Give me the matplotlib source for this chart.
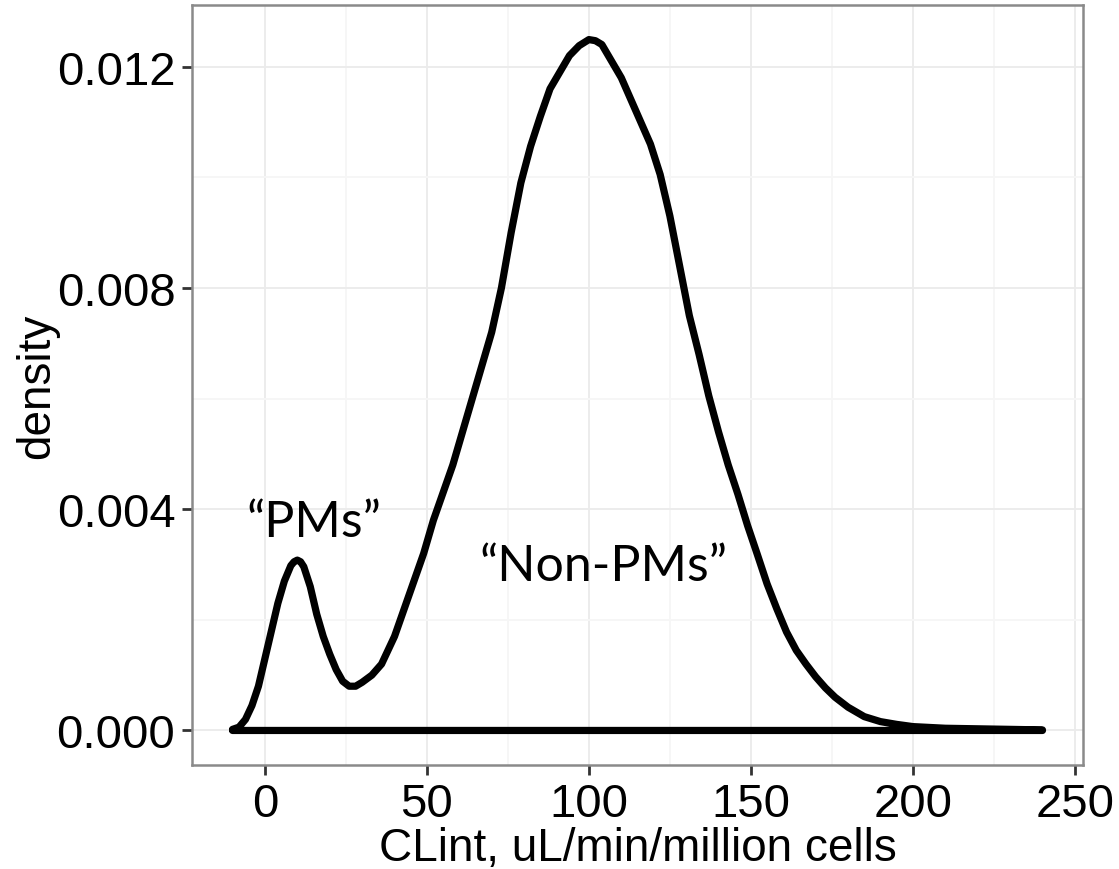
import matplotlib
matplotlib.use("Agg")
import matplotlib.pyplot as plt
from matplotlib.ticker import MultipleLocator

# Density curve values
clint = [-10, -8, -6, -4, -2, 0, 2, 4, 6, 8, 9, 10, 11, 12, 14, 16, 18, 20, 22, 24,
         26, 28, 30, 33, 36, 40, 43, 46, 49, 52, 55, 58, 61, 64, 67, 70, 73, 76, 79,
         82, 85, 88, 91, 94, 97, 100, 102, 104, 107, 110, 113, 116, 119, 122, 125,
         128, 131, 134, 137, 140, 143, 146, 149, 152, 155, 158, 161, 164, 167, 170,
         173, 176, 180, 185, 190, 195, 200, 210, 220, 230, 240]
density = [0.00002, 0.00006, 0.0002, 0.00045, 0.0008, 0.0013, 0.0018, 0.0023, 0.0027,
           0.00298, 0.00305, 0.00308, 0.00305, 0.00296, 0.0026, 0.0021, 0.0017,
           0.00138, 0.0011, 0.00089, 0.0008, 0.0008, 0.00087, 0.001, 0.0012, 0.0017,
           0.0022, 0.0027, 0.0032, 0.0038, 0.0043, 0.0048, 0.0054, 0.0060, 0.0066,
           0.0072, 0.0080, 0.0090, 0.0099, 0.01056, 0.0111, 0.0116, 0.0119, 0.0122,
           0.01238, 0.01249, 0.01247, 0.0124, 0.0121, 0.0118, 0.0114, 0.0110, 0.0106,
           0.01005, 0.0093, 0.0084, 0.0075, 0.0068, 0.00605, 0.0054, 0.0048, 0.00427,
           0.0037, 0.00318, 0.00265, 0.0022, 0.00178, 0.00145, 0.0012, 0.00097,
           0.00077, 0.0006, 0.00042, 0.00025, 0.00016, 0.00011, 0.00007, 0.00004,
           0.00003, 0.00002, 0.00001]

x_ticks = [0, 50, 100, 150, 200, 250]
y_ticks = [0.000, 0.004, 0.008, 0.012]
y_tick_labels = ["0.000", "0.004", "0.008", "0.012"]
x_label = "CLint, uL/min/million cells"
y_label = "density"
annotations = [("\u201cPMs\u201d", 15.2, 0.00352), ("\u201cNon-PMs\u201d", 104.5, 0.00272)]

fig = plt.figure(figsize=(11.19, 8.70), dpi=100)
ax = fig.add_axes([0.1716, 0.1195, 0.7962, 0.8736])
ax.set_facecolor("white")

# closed density outline (curve + baseline)
xs = list(clint) + [clint[-1], clint[0]]
ys = list(density) + [0.0, 0.0]
ax.plot(xs, ys, color="black", lw=5.2, solid_capstyle="round",
        solid_joinstyle="round", zorder=3)

ax.set_xlim(-22.5, 252.5)
ax.set_ylim(-0.000625, 0.013115)

ax.set_xticks(x_ticks)
ax.set_yticks(y_ticks)
ax.set_yticklabels(y_tick_labels)
ax.xaxis.set_minor_locator(MultipleLocator(25))
ax.yaxis.set_minor_locator(MultipleLocator(0.002))

ax.grid(which="major", color="#EBEBEB", lw=1.3, zorder=0)
ax.grid(which="minor", color="#F6F6F6", lw=1.3, zorder=0)
ax.set_axisbelow(True)

for s in ax.spines.values():
    s.set_color("#8A8A8A")
    s.set_linewidth(1.8)

ax.tick_params(which="major", length=7, width=2, color="#333333",
               labelsize=34, labelcolor="black", pad=5)
ax.tick_params(which="minor", length=0)
for lab in ax.get_xticklabels() + ax.get_yticklabels():
    lab.set_family("Liberation Sans")

ax.set_xlabel(x_label, fontsize=33, family="Liberation Sans", labelpad=0)
ax.set_ylabel(y_label, fontsize=33, family="Liberation Sans", labelpad=-2)

for txt, xv, yv in annotations:
    ax.text(xv, yv, txt, ha="center", va="baseline", fontsize=36,
            family="Lato", color="black", zorder=4)

fig.savefig("out.png", dpi=100, facecolor="white")
